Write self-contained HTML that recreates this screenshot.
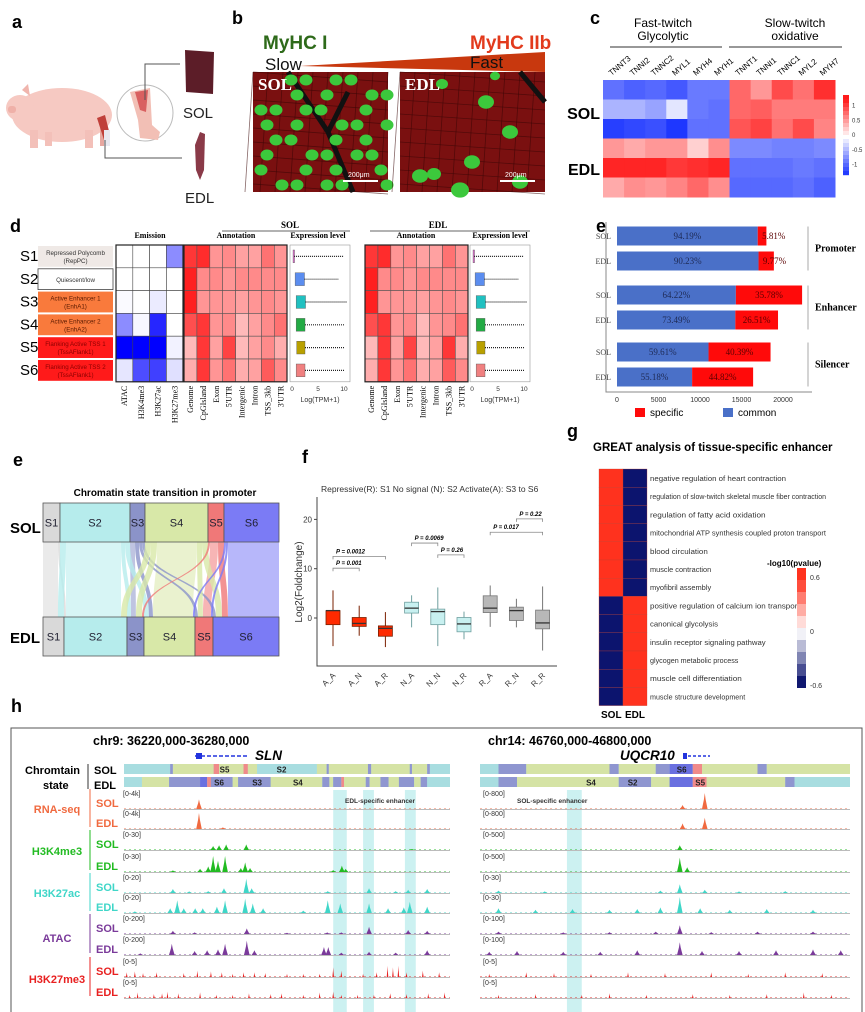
<!DOCTYPE html>
<html><head><meta charset="utf-8">
<style>
html,body{margin:0;padding:0;background:#fff;}
svg{display:block;font-family:"Liberation Sans",Arial,sans-serif;}
.serif{font-family:"Liberation Serif",serif;}
.pl{font-size:18px;font-weight:bold;fill:#000;}
</style></head>
<body>
<svg id="fig" width="865" height="1012" viewBox="0 0 865 1012">
<rect width="865" height="1012" fill="#fff"/>
<!-- ========== panel a ========== -->
<g>
<text class="pl" x="12" y="28">a</text>
<g>
<ellipse cx="62" cy="115" rx="50" ry="27" fill="#f6c9c2"/>
<ellipse cx="20" cy="108" rx="14" ry="13" fill="#f6c9c2"/>
<rect x="8" y="106" width="8" height="7" rx="3" fill="#efb0a8"/>
<polygon points="22,90 28,84 30,96" fill="#f0b5ad"/>
<rect x="30" y="130" width="8" height="18" fill="#f3c0b9"/>
<rect x="45" y="132" width="7" height="14" fill="#f3c0b9"/>
<rect x="85" y="130" width="8" height="18" fill="#f3c0b9"/>
<rect x="100" y="128" width="8" height="18" fill="#e7a7a0"/>
<path d="M97,118 L105,115 L110,135 L104,140 Z" fill="#c0403a"/>
<rect x="104" y="130" width="6" height="16" fill="#e8e8f0"/>
</g>
<circle cx="145" cy="113" r="28" fill="#fff" stroke="#bbb" stroke-width="1"/>
<path d="M130,92 L150,88 L152,125 L160,132 L158,140 L140,138 L138,120 Z" fill="#f2bfb5"/>
<path d="M135,92 L148,90 L146,112 L140,110 Z" fill="#d96060"/>
<polyline points="145,100 145,64 180,64" fill="none" stroke="#555" stroke-width="1"/>
<polyline points="105,140 105,158 182,158" fill="none" stroke="#555" stroke-width="1"/>
<path d="M185,50 L214,52 L213,94 L186,92 Z" fill="#5c1d28"/>
<text x="183" y="118" font-size="15" fill="#222">SOL</text>
<path d="M200,132 L205,134 L204,170 L200,180 L196,170 L195,145 Z" fill="#8a3a48"/>
<text x="185" y="203" font-size="15" fill="#222">EDL</text>
</g>
<!-- ========== panel b ========== -->
<g>
<text class="pl" x="232" y="24">b</text>
<text x="263" y="49" font-size="19" font-weight="bold" fill="#2e6a1a">MyHC I</text>
<text x="470" y="49" font-size="19" font-weight="bold" fill="#e23a1c">MyHC IIb</text>
<text x="265" y="70" font-size="17" fill="#111">Slow</text>
<polygon points="300,66 545,52 545,72" fill="#c8380e"/>
<text x="470" y="68" font-size="17" fill="#111">Fast</text>
<g id="micSOL"></g>
<g id="micEDL"></g>
</g>
<!-- ========== panel c ========== -->
<g id="panelC">
<text class="pl" x="590" y="24">c</text>
<text x="663" y="27" font-size="12" text-anchor="middle">Fast-twitch</text>
<text x="663" y="40" font-size="12" text-anchor="middle">Glycolytic</text>
<text x="795" y="27" font-size="12" text-anchor="middle">Slow-twitch</text>
<text x="795" y="40" font-size="12" text-anchor="middle">oxidative</text>
<line x1="610" y1="47" x2="722" y2="47" stroke="#777" stroke-width="1.5"/>
<line x1="729" y1="47" x2="842" y2="47" stroke="#777" stroke-width="1.5"/>
<text x="600" y="119" font-size="16" font-weight="bold" text-anchor="end">SOL</text>
<text x="600" y="175" font-size="16" font-weight="bold" text-anchor="end">EDL</text>
</g>
<!-- ========== panel d ========== -->
<g id="panelD">
<text class="pl" x="10" y="232">d</text>
<text class="serif" x="150" y="238" font-size="8" font-weight="bold" text-anchor="middle">Emission</text>
<text class="serif" x="236" y="238" font-size="8" font-weight="bold" text-anchor="middle">Annotation</text>
<text class="serif" x="318" y="238" font-size="8" font-weight="bold" text-anchor="middle">Expression level</text>
<text class="serif" x="290" y="228" font-size="9" font-weight="bold" text-anchor="middle">SOL</text>
<line x1="222" y1="231" x2="350" y2="231" stroke="#333" stroke-width="0.8"/>
<text class="serif" x="438" y="228" font-size="9" font-weight="bold" text-anchor="middle">EDL</text>
<line x1="370" y1="231" x2="530" y2="231" stroke="#333" stroke-width="0.8"/>
<text class="serif" x="416" y="238" font-size="8" font-weight="bold" text-anchor="middle">Annotation</text>
<text class="serif" x="500" y="238" font-size="8" font-weight="bold" text-anchor="middle">Expression level</text>
</g>
<!-- ========== panel e (bars) ========== -->
<g id="panelE">
<text class="pl" x="596" y="232">e</text>
</g>
<!-- ========== sankey ========== -->
<g id="panelS">
<text class="pl" x="13" y="466">e</text>
<text x="165" y="496" font-size="10" font-weight="bold" text-anchor="middle">Chromatin state transition in promoter</text>
<text x="10" y="533" font-size="15" font-weight="bold">SOL</text>
<text x="10" y="643" font-size="15" font-weight="bold">EDL</text>
</g>
<!-- ========== panel f ========== -->
<g id="panelF">
<text class="pl" x="302" y="463">f</text>
<text x="321" y="492" font-size="8.5" fill="#333">Repressive(R): S1   No signal (N): S2   Activate(A): S3 to S6</text>
</g>
<!-- ========== panel g ========== -->
<g id="panelG">
<text class="pl" x="567" y="437">g</text>
<text x="593" y="451" font-size="11.5" font-weight="bold">GREAT analysis of tissue-specific enhancer</text>
<text x="767" y="566" font-size="8" font-weight="bold">-log10(pvalue)</text>
<text x="601" y="718" font-size="10" font-weight="bold">SOL</text>
<text x="625" y="718" font-size="10" font-weight="bold">EDL</text>
</g>
<!-- ========== panel h ========== -->
<g id="panelH">
<text class="pl" x="11" y="712">h</text>
<polyline points="11,1012 11,728 862,728 862,1012" fill="none" stroke="#555" stroke-width="1"/>
<text x="93" y="745" font-size="12.5" font-weight="bold">chr9: 36220,000-36280,000</text>
<text x="255" y="760" font-size="13.5" font-weight="bold" font-style="italic">SLN</text>
<text x="488" y="745" font-size="12.5" font-weight="bold">chr14: 46760,000-46800,000</text>
<text x="620" y="760" font-size="13.5" font-weight="bold" font-style="italic">UQCR10</text>
<text x="25" y="774" font-size="11" font-weight="bold">Chromtain</text>
<text x="43" y="789" font-size="11" font-weight="bold">state</text>
<line x1="88" y1="764" x2="88" y2="789" stroke="#333"/>
<text x="94" y="774" font-size="11" font-weight="bold">SOL</text>
<text x="94" y="789" font-size="11" font-weight="bold">EDL</text>
</g>
</svg>
<script>
const NS='http://www.w3.org/2000/svg';
function mk(tag,attrs,parent){const e=document.createElementNS(NS,tag);for(const k in attrs)e.setAttribute(k,attrs[k]);(parent||document.getElementById('fig')).appendChild(e);return e;}
function tx(str,attrs,parent){const e=mk('text',attrs,parent);e.textContent=str;return e;}

/* ---------------- panel b micrographs ---------------- */
function micro(id,x0,y0,w,h,lab,blobs,vess){
  const g=document.getElementById(id);
  let r=mk('rect',{x:x0,y:y0,width:w,height:h,fill:'#7a1010'},g);
  
  
  for(let i=0;i<9;i++){let l=mk('line',{x1:x0,y1:y0+i*14,x2:x0+w,y2:y0+i*14+10,stroke:'#3a0606','stroke-width':0.8,opacity:0.6},g);
    
    }
  for(let i=0;i<10;i++){let l=mk('line',{x1:x0+i*15,y1:y0,x2:x0+i*15-8,y2:y0+h,stroke:'#3a0606','stroke-width':0.8,opacity:0.6},g);
    
    }
  vess.forEach(p=>{let v=mk('path',{d:p,stroke:'#111','stroke-width':5,fill:'none',transform:'translate('+x0+' '+y0+')'},g);
    
    });
  blobs.forEach(b=>{let c=mk('ellipse',{cx:x0+b[0],cy:y0+b[1],rx:b[2],ry:b[2]*0.85,fill:'#3cc83c'},g);
    
    });
  let t=tx(lab,{x:x0+5,y:y0+18,'font-size':17,'font-weight':'bold',fill:'#fff',class:'serif'},g);
  
  
  let sb=mk('rect',{x:x0+w-45,y:y0+h-12,width:35,height:2,fill:'#fff'},g);
  
  
  let st=tx('200μm',{x:x0+w-40,y:y0+h-15,'font-size':7,fill:'#fff'},g);
  
  
}
const solBlobs=[];
for(let r=0;r<8;r++)for(let c=0;c<9;c++){ if((r*3+c*5)%4!==0 && (r+c)%3!==1){solBlobs.push([8+c*15+(r%2)*6,8+r*15,6.5]);}}
micro('micSOL',253,72,135,120,'SOL',solBlobs,['M35,0 L75,60 L100,120','M75,60 L95,20']);
micro('micEDL',400,72,145,120,'EDL',[[42,12,6],[86,30,8],[72,90,8],[20,104,8],[34,102,7],[110,60,8],[120,110,8],[60,118,9],[95,4,5]],['M120,0 L145,30']);

/* ---------------- panel c heatmap ---------------- */
const cGenes=['TNNT3','TNNI2','TNNC2','MYL1','MYH4','MYH1','TNNT1','TNNI1','TNNC1','MYL2','MYH7'];
const cRows=['SOL-1','SOL-2','SOL-3','EDL-1','EDL-2','EDL-3'];
const cVals=[
 [-0.85,-0.95,-0.9,-1.0,-0.8,-0.8,0.8,0.55,0.95,0.75,1.1],
 [-0.45,-0.45,-0.55,-0.15,-0.8,-0.85,0.8,0.85,0.7,0.7,0.7],
 [-1.15,-1.1,-1.05,-1.2,-0.85,-0.85,0.9,1.0,0.75,0.95,0.65],
 [0.55,0.45,0.55,0.55,0.25,0.6,-0.7,-0.7,-0.75,-0.75,-0.7],
 [1.15,1.15,1.15,1.05,1.1,1.15,-0.85,-0.85,-0.85,-0.8,-0.85],
 [0.45,0.6,0.55,0.65,0.8,0.6,-0.9,-0.9,-0.9,-0.85,-0.95]];
const cTicks=[1,0.5,0,-0.5,-1];
function divColor(v,m){let t=Math.max(-1,Math.min(1,v/m));
  if(t>=0){return 'rgb(255,'+Math.round(255-(255-28)*t)+','+Math.round(255-(255-28)*t)+')';}
  t=-t;return 'rgb('+Math.round(255-(255-30)*t)+','+Math.round(255-(255-55)*t)+',255)';}
(function(){
 const g=document.getElementById('panelC');const X0=603,Y0=80,W=232,H=117;
 const cw=W/cGenes.length,ch=H/cRows.length;
 cVals.forEach((row,i)=>row.forEach((v,j)=>{
   let r=mk('rect',{x:X0+j*cw,y:Y0+i*ch,width:cw+0.5,height:ch+0.5,fill:divColor(v,1.2)},g);
   
   }));
 cGenes.forEach((n,j)=>{let t=tx(n,{x:X0+j*cw+cw/2-2,y:76,'font-size':8,transform:'rotate(-40 '+(X0+j*cw+cw/2-2)+' 76)'},g);
   
   });
 for(let k=0;k<20;k++){let v=1.3-k*2.6/20;let r=mk('rect',{x:843,y:95+k*4,width:6,height:4.2,fill:divColor(v,1.2)},g);
   
   }
 cTicks.forEach(v=>{let y=135-v*29.5;let t=tx(String(v),{x:852,y:y+2,'font-size':6,fill:'#333'},g);
   
   });
})();

/* ---------------- panel d ---------------- */
const dStates=['S1','S2','S3','S4','S5','S6'];
const dNames=[['Repressed Polycomb','(RepPC)'],['Quiescent/low',''],['Active Enhancer 1','(EnhA1)'],['Active Enhancer 2','(EnhA2)'],['Flanking Active TSS 1','(TssAFlank1)'],['Flanking Active TSS 2','(TssAFlank1)']];
const dEmisMarks=['ATAC','H3K4me3','H3K27ac','H3K27me3'];
const dEmis=[[0,0,0,0.45],[0,0,0,0],[0.02,0,0.08,0],[0.45,0.03,0.85,0],[1,1,1,0.05],[0.1,0.7,0.75,0.12]];
const dAnnoCats=['Genome','CpGIsland','Exon',"5'UTR",'Intergenic','Intron','TSS_3kb',"3'UTR"];
const dAnnoSOL=[[0.85,0.9,0.45,0.5,0.4,0.4,0.6,0.45],[0.95,0.5,0.5,0.45,0.5,0.5,0.5,0.5],[0.95,0.45,0.45,0.45,0.4,0.45,0.5,0.45],[0.75,0.85,0.45,0.5,0.3,0.4,0.5,0.6],[0.3,0.85,0.4,0.8,0.3,0.4,0.5,0.35],[0.35,0.85,0.45,0.6,0.35,0.4,0.7,0.5]];
const dAnnoEDL=[[0.85,0.9,0.45,0.5,0.4,0.4,0.6,0.45],[0.95,0.5,0.5,0.45,0.5,0.5,0.5,0.5],[0.95,0.45,0.45,0.45,0.4,0.45,0.5,0.45],[0.75,0.85,0.45,0.5,0.3,0.45,0.5,0.6],[0.3,0.85,0.4,0.8,0.3,0.4,0.85,0.35],[0.35,0.85,0.45,0.6,0.35,0.4,0.7,0.5]];
const dExprMed=[0.3,1.5,1.7,1.6,1.6,1.6];
const dExprQ=[[0.2,0.4],[0.6,2.4],[0.8,2.6],[0.8,2.5],[0.9,2.5],[0.8,2.5]];
const dExprMax=[10,9,10.5,10,10,10];
(function(){
 const g=document.getElementById('panelD');const Y0=245,RH=22.8;
 const boxFill=['#efe9e6','#ffffff','#f97a3c','#f97a3c','#ff1a1a','#ff1a1a'];
 const boxText=['#333','#333','#5a1a00','#5a1a00','#8a0000','#8a0000'];
 const exprCol=['#e070d0','#5b8def','#20c0c0','#22aa44','#b8a000','#f08080'];
 dStates.forEach((s,i)=>{const y=Y0+i*RH;
  let t=tx(s,{x:20,y:y+16,'font-size':15},g);
  
  
  let b=mk('rect',{x:38,y:y+1,width:75,height:RH-2,fill:boxFill[i],stroke:i==1?'#444':'none','stroke-width':0.8},g);
  
  
  let n1=tx(dNames[i][0],{x:75.5,y:dNames[i][1]?y+10:y+14,'font-size':6.2,'text-anchor':'middle',fill:boxText[i]},g);
  
  
  if(dNames[i][1]){let n2=tx(dNames[i][1],{x:75.5,y:y+18,'font-size':6.2,'text-anchor':'middle',fill:boxText[i]},g);
   
   }
  dEmis[i].forEach((v,j)=>{let c=mk('rect',{x:116+j*16.8,y:y,width:16.8,height:RH,fill:'rgb('+Math.round(255-255*v)+','+Math.round(255-255*v)+',255)',stroke:'#444','stroke-width':0.6},g);
   
   });
  [[184,dAnnoSOL],[365,dAnnoEDL]].forEach(([x0,arr])=>arr[i].forEach((v,j)=>{
   const gg=Math.round(255-(255-20)*v);
   let c=mk('rect',{x:x0+j*12.9,y:y,width:12.9,height:RH,fill:'rgb(255,'+gg+','+gg+')',stroke:'#555','stroke-width':0.6},g);
   
   }));
  [290,470].forEach(x0=>{const sx=v=>x0+2+v*5.2;
   let bx=mk('rect',{x:sx(dExprQ[i][0]),y:y+5,width:Math.max(1.5,sx(dExprQ[i][1])-sx(dExprQ[i][0])),height:RH-10,fill:exprCol[i],stroke:'#555','stroke-width':0.4},g);
   
   
   let ln=mk('line',{x1:sx(dExprQ[i][1]),y1:y+RH/2,x2:sx(dExprMax[i]),y2:y+RH/2,stroke:'#222','stroke-width':1.2,'stroke-dasharray':'1 1'},g);
   
   });
 });
 [[116,183],[184,287],[365,468]].forEach(([a,b])=>{let r=mk('rect',{x:a,y:Y0,width:b-a,height:RH*6,fill:'none',stroke:'#222','stroke-width':1.2},g);
  
  });
 [290,470].forEach(x0=>{let r=mk('rect',{x:x0,y:Y0,width:60,height:RH*6,fill:'none',stroke:'#999','stroke-width':0.6},g);
  
  
  [0,5,10].forEach(v=>{let t=tx(String(v),{x:x0+2+v*5.2,y:Y0+RH*6+9,'font-size':6.5,'text-anchor':'middle',fill:'#333'},g);
   
   });
  let t=tx('Log(TPM+1)',{x:x0+30,y:Y0+RH*6+20,'font-size':7,'text-anchor':'middle',fill:'#333'},g);
  
  });
 const yb=Y0+RH*6+4;
 dEmisMarks.forEach((m,j)=>{const x=116+j*16.8+11;let t=tx(m,{x:x,y:yb,'font-size':8,'text-anchor':'end',class:'serif',transform:'rotate(-90 '+x+' '+yb+')'},g);
  
  });
 [184,365].forEach(x0=>dAnnoCats.forEach((m,j)=>{const x=x0+j*12.9+9;let t=tx(m,{x:x,y:yb,'font-size':8,'text-anchor':'end',class:'serif',transform:'rotate(-90 '+x+' '+yb+')'},g);
  
  }));
})();

/* ---------------- panel e bar chart ---------------- */
const eRegions=['Promoter','Enhancer','Silencer'];
const eTissues=['SOL','EDL','SOL','EDL','SOL','EDL'];
const eTotals=[18000,18900,22300,19400,18500,16400];
const eCommonPct=[94.19,90.23,64.22,73.49,59.61,55.18];
const eSpecificPct=[5.81,9.77,35.78,26.51,40.39,44.82];
const eTicks=[0,5000,10000,15000,20000];
(function(){
 const g=document.getElementById('panelE');
 const xS=v=>617+v*166/20000;
 const yC=[236,261,295,320,352,377];
 eTotals.forEach((tot,i)=>{const cw=tot*eCommonPct[i]/100;const sw=tot*eSpecificPct[i]/100;
  let b1=mk('rect',{x:xS(0),y:yC[i]-9.5,width:xS(cw)-xS(0),height:19,fill:'#4a70c8'},g);
  
  
  let b2=mk('rect',{x:xS(cw),y:yC[i]-9.5,width:xS(cw+sw)-xS(cw),height:19,fill:'#ff0a0a'},g);
  
  
  let t1=tx(eCommonPct[i].toFixed(2)+'%',{x:(xS(0)+xS(cw))/2,y:yC[i]+3,'font-size':9,'text-anchor':'middle',fill:'#1e2a55',class:'serif'},g);
  
  
  let t2=tx(eSpecificPct[i].toFixed(2)+'%',{x:Math.max(xS(cw)+16,(xS(cw)+xS(cw+sw))/2),y:yC[i]+3,'font-size':9,'text-anchor':'middle',fill:'#5a0000',class:'serif'},g);
  
  
  let tl=tx(eTissues[i],{x:611,y:yC[i]+3,'font-size':8,'text-anchor':'end',fill:'#444',class:'serif'},g);
  
  });
 eRegions.forEach((r,k)=>{const ym=(yC[2*k]+yC[2*k+1])/2;
  let l=mk('line',{x1:808,y1:ym-22,x2:808,y2:ym+22,stroke:'#aaa','stroke-width':1},g);
  
  
  let t=tx(r,{x:815,y:ym+3,'font-size':10,'font-weight':'bold',class:'serif'},g);
  
  });
 let ax=mk('polyline',{points:'606,222 606,392 812,392',fill:'none',stroke:'#888','stroke-width':1},g);
 
 
 eTicks.forEach(v=>{let t=tx(String(v),{x:xS(v),y:402,'font-size':7,'text-anchor':'middle',fill:'#333'},g);
  
  });
 let l1=mk('rect',{x:635,y:408,width:10,height:9,fill:'#ff0a0a'},g);
 
 
 let l1t=tx('specific',{x:650,y:416,'font-size':10},g);
 
 
 let l2=mk('rect',{x:723,y:408,width:10,height:9,fill:'#4a70c8'},g);
 
 
 let l2t=tx('common',{x:738,y:416,'font-size':10},g);
 
 
})();

/* ---------------- sankey ---------------- */
const sStates=['S1','S2','S3','S4','S5','S6'];
const sFrom=[0,0,1,1,1,1,2,2,2,2,3,3,3,3,3,4,4,4,5,5,5];
const sTo  =[0,1,0,1,2,3,2,3,4,5,1,2,3,4,5,2,4,5,3,4,5];
const sVal =[15,2,6,55,4,5,5,4,3,3,6,6,40,5,6,2,8,6,2,2,51];
(function(){
 const g=document.getElementById('panelS');
 const col=['#d9d9d9','#b6ecec','#8b93c9','#d8e8a8','#f07878','#7b7bf5'];
 const X0=43,W=236,yT=503,yB=617,bh=39;
 const tot=sVal.reduce((a,b)=>a+b,0);const k=W/tot;
 const outT=[0,0,0,0,0,0],inT=[0,0,0,0,0,0];
 sVal.forEach((v,i)=>{outT[sFrom[i]]+=v;inT[sTo[i]]+=v;});
 const sx=[],ex=[];let a=X0,b=X0;
 for(let s=0;s<6;s++){sx.push(a);a+=outT[s]*k;ex.push(b);b+=inT[s]*k;}
 const so=sx.slice(),eo=ex.slice();
 const order=sVal.map((v,i)=>i).sort((i,j)=>(sFrom[i]===sTo[i]?0:1)-(sFrom[j]===sTo[j]?0:1));
 const pos={};
 sVal.forEach((v,i)=>{pos[i]={x1:so[sFrom[i]],x2:eo[sTo[i]]};so[sFrom[i]]+=v*k;eo[sTo[i]]+=v*k;});
 order.forEach(i=>{const w=sVal[i]*k,p=pos[i],y1=yT+bh,y2=yB,my=(y1+y2)/2;
  const d='M'+p.x1+','+y1+' C'+p.x1+','+my+' '+p.x2+','+my+' '+p.x2+','+y2+' L'+(p.x2+w)+','+y2+' C'+(p.x2+w)+','+my+' '+(p.x1+w)+','+my+' '+(p.x1+w)+','+y1+' Z';
  const self=sFrom[i]===sTo[i];
  let r=mk('path',{d:d,fill:col[sFrom[i]],opacity:self?0.55:0.8},g);
  
  });
 [[yT,sx,outT],[yB,ex,inT]].forEach(([y,xs,ts])=>{for(let s=0;s<6;s++){
  let r=mk('rect',{x:xs[s],y:y,width:ts[s]*k,height:bh,fill:col[s],stroke:'#555','stroke-width':0.8},g);
  
  
  let t=tx(sStates[s],{x:xs[s]+ts[s]*k/2,y:y+bh/2+4,'font-size':11,'text-anchor':'middle',fill:'#223'},g);
  
  }});
})();

/* ---------------- panel f boxplots ---------------- */
const fGroups=['A_A','A_N','A_R','N_A','N_N','N_R','R_A','R_N','R_R'];
const fQ1=[-1.35,-1.7,-3.7,1.0,-1.35,-2.8,1.1,-0.5,-2.2];
const fMed=[1.5,-1.1,-2.1,2.0,1.3,-1.2,2.0,1.5,-1.0];
const fQ3=[1.5,0.1,-1.6,3.2,1.8,0.1,4.5,2.2,1.6];
const fWLo=[-5.7,-3.6,-5.9,-1.9,-5.7,-4.3,-1.8,-1.9,-6.6];
const fWHi=[5.6,2.5,1.2,4.6,6.2,1.3,6.6,3.9,6.4];
const fTicks=[0,10,20];
const fPairs=[[0,1],[0,2],[3,4],[4,5],[6,8],[7,8]];
const fPLevels=[10.1,12.5,15.2,12.8,17.4,20.1];
const fPText=['P = 0.001','P = 0.0012','P = 0.0069','P = 0.26','P = 0.017','P = 0.22'];
(function(){
 const g=document.getElementById('panelF');
 const yS=v=>618-v*4.93;const xS=i=>333+i*26.2;
 const fill=['#ff2a00','#ff2a00','#ff2a00','#c8f0f0','#c8f0f0','#c8f0f0','#b8b8b8','#b8b8b8','#b8b8b8'];
 const stroke=['#7a2000','#7a2000','#7a2000','#70a0a0','#70a0a0','#70a0a0','#777','#777','#777'];
 let ax=mk('polyline',{points:'317,497 317,666 557,666',fill:'none',stroke:'#444','stroke-width':1},g);
 
 
 fTicks.forEach(v=>{let l=mk('line',{x1:314,y1:yS(v),x2:317,y2:yS(v),stroke:'#444'},g);
  
  
  let t=tx(String(v),{x:312,y:yS(v)+3,'font-size':8,'text-anchor':'end',fill:'#333'},g);
  
  });
 let yt=tx('Log2(Foldchange)',{x:302,y:582,'font-size':10,'text-anchor':'middle',fill:'#333',transform:'rotate(-90 302 582)'},g);
 
 
 fGroups.forEach((n,i)=>{const x=xS(i);
  let w=mk('line',{x1:x,y1:yS(fWLo[i]),x2:x,y2:yS(fWHi[i]),stroke:stroke[i],'stroke-width':1},g);
  
  
  let b=mk('rect',{x:x-7,y:yS(fQ3[i]),width:14,height:yS(fQ1[i])-yS(fQ3[i]),fill:fill[i],stroke:stroke[i],'stroke-width':0.8},g);
  
  
  let m=mk('line',{x1:x-7,y1:yS(fMed[i]),x2:x+7,y2:yS(fMed[i]),stroke:'#333','stroke-width':1.3},g);
  
  
  let t=tx(n,{x:x+3,y:676,'font-size':8,'text-anchor':'end',fill:'#333',transform:'rotate(-45 '+(x+3)+' 676)'},g);
  
  });
 fPairs.forEach((p,k)=>{const y=yS(fPLevels[k]),a=xS(p[0]),b=xS(p[1]);
  let l=mk('polyline',{points:a+','+(y+3)+' '+a+','+y+' '+b+','+y+' '+b+','+(y+3),fill:'none',stroke:'#888','stroke-width':0.8},g);
  
  
  let t=tx(fPText[k],{x:a+3,y:y-3,'font-size':6,'font-weight':'bold','font-style':'italic'},g);
  
  });
})();

/* ---------------- panel g heatmap ---------------- */
const gTerms=['negative regulation of heart contraction','regulation of slow-twitch skeletal muscle fiber contraction','regulation of fatty acid oxidation','mitochondrial ATP synthesis coupled proton transport','blood circulation','muscle contraction','myofibril assembly','positive regulation of calcium ion transport','canonical glycolysis','insulin receptor signaling pathway','glycogen metabolic process','muscle cell differentiation','muscle structure development'];
const gSOL=[0.6,0.6,0.6,0.6,0.6,0.6,0.6,-0.6,-0.6,-0.6,-0.6,-0.6,-0.6];
const gEDL=[-0.6,-0.6,-0.6,-0.6,-0.6,-0.6,-0.6,0.6,0.6,0.6,0.6,0.6,0.6];
const gTicks=[0.6,0,-0.6];
function gColor(v){const t=Math.max(-1,Math.min(1,v/0.6));
 if(t>=0){return 'rgb(255,'+Math.round(255-(255-50)*t)+','+Math.round(255-(255-30)*t)+')';}
 const u=-t;return 'rgb('+Math.round(255-(255-12)*u)+','+Math.round(255-(255-20)*u)+','+Math.round(255-(255-110)*u)+')';}
(function(){
 const g=document.getElementById('panelG');const Y0=469,RH=18.2;
 gTerms.forEach((term,i)=>{
  [[599,gSOL],[623,gEDL]].forEach(([x,arr])=>{let r=mk('rect',{x:x,y:Y0+i*RH,width:24,height:RH,fill:gColor(arr[i]),stroke:'#c04030','stroke-width':0.3},g);
   
   });
  let t=tx(term,{x:650,y:Y0+i*RH+12,'font-size':7.6,fill:'#333',textLength:Math.min(176,term.length*3.4),lengthAdjust:'spacingAndGlyphs'},g);
  
  });
 for(let k=0;k<10;k++){const v=0.66-k*1.32/9.5;let r=mk('rect',{x:797,y:568+k*12,width:9,height:12,fill:gColor(v)},g);
  
  }
 gTicks.forEach(v=>{let t=tx(String(v),{x:810,y:631-v*90+3,'font-size':7,fill:'#333'},g);
  
  });
})();

/* ---------------- panel h genome tracks ---------------- */
const hStateCol={S2:'#a8dde0',S3:'#8f96d0',S4:'#d5e3a5',S5:'#f08a8a',S6:'#6a70e0'};
const hLeftSOL=[[0,8.5,'S2'],[8.5,9,'S3'],[9,16.5,'S4'],[16.5,17.5,'S5'],[17.5,22,'S4'],[22,22.8,'S5'],[22.8,24.5,'S4'],[24.5,35.5,'S2'],[35.5,37.3,'S4'],[37.3,37.7,'S3'],[37.7,44.9,'S4'],[44.9,45.5,'S3'],[45.5,52.6,'S4'],[52.6,53,'S3'],[53,55.8,'S4'],[55.8,56.3,'S3'],[56.3,60,'S2']];
const hLeftEDL=[[0,3.3,'S2'],[3.3,8.3,'S4'],[8.3,14,'S3'],[14,15.3,'S6'],[15.3,16,'S5'],[16,20,'S3'],[20,21,'S4'],[21,27,'S3'],[27,36.5,'S4'],[36.5,37.8,'S3'],[37.8,38.5,'S4'],[38.5,40,'S3'],[40,40.5,'S5'],[40.5,44.5,'S4'],[44.5,45.2,'S3'],[45.2,47.2,'S4'],[47.2,48.7,'S3'],[48.7,50.6,'S4'],[50.6,53.4,'S3'],[53.4,54.6,'S4'],[54.6,55.8,'S3'],[55.8,60,'S2']];
const hRightSOL=[[0,2,'S2'],[2,5,'S3'],[5,14,'S4'],[14,15,'S3'],[15,19,'S4'],[19,20.5,'S3'],[20.5,23,'S6'],[23,24,'S5'],[24,30,'S4'],[30,31,'S3'],[31,40,'S4']];
const hRightEDL=[[0,2,'S2'],[2,4,'S3'],[4,15,'S4'],[15,18.5,'S3'],[18.5,20.5,'S4'],[20.5,23,'S6'],[23,24.5,'S5'],[24.5,33,'S4'],[33,34,'S3'],[34,40,'S2']];
const hLeftStateLabels=[['S5',18.5,0],['S2',29,0],['S6',17.5,1],['S3',24.5,1],['S4',32,1]];
const hRightStateLabels=[['S6',21.8,0],['S4',12,1],['S2',16.5,1],['S5',23.8,1]];
const hTrackNames=['RNA-seq','RNA-seq','H3K4me3','H3K4me3','H3K27ac','H3K27ac','ATAC','ATAC','H3K27me3','H3K27me3'];
const hTrackTissue=['SOL','EDL','SOL','EDL','SOL','EDL','SOL','EDL','SOL','EDL'];
const hLeftRanges=['[0-4k]','[0-4k]','[0-30]','[0-30]','[0-20]','[0-20]','[0-200]','[0-200]','[0-5]','[0-5]'];
const hRightRanges=['[0-800]','[0-800]','[0-500]','[0-500]','[0-30]','[0-30]','[0-100]','[0-100]','[0-5]','[0-5]'];
const hLeftPeaks=[
 [[13.8,0.6]],
 [[13.8,1.0],[18.2,0.1]],
 [[16.4,0.25],[17.5,0.3],[18.8,0.35],[22.5,0.35],[53,0.06]],
 [[9.0,0.1],[14.0,0.2],[15.5,0.35],[16.4,1.0],[17.3,0.7],[18.6,1.0],[21.5,0.25],[22.3,0.6],[23.2,0.25],[38.5,0.12],[40.1,0.4],[40.8,0.2]],
 [[9.0,0.25],[12,0.1],[15.5,0.12],[18.4,0.3],[22.5,0.9],[23.5,0.3],[37.5,0.12],[45.1,0.3],[50,0.12],[52.3,0.2],[55.8,0.25]],
 [[2,0.1],[8.5,0.3],[9.8,0.8],[11,0.3],[13.1,0.3],[14.5,0.3],[17.1,0.4],[18.6,0.8],[22.3,0.9],[23.7,0.6],[25.6,0.3],[33,0.15],[37.5,0.8],[39.8,0.6],[45.1,0.6],[48.6,0.3],[51.5,0.35],[52.6,0.7],[55.8,0.4]],
 [[9.0,0.2],[13,0.1],[22.6,0.35],[30,0.08],[37.4,0.1],[40,0.1],[45.1,0.45],[52.3,0.25],[55.8,0.2]],
 [[3,0.1],[8.8,0.7],[13,0.25],[15.3,0.3],[17.3,0.35],[18.6,0.7],[22.6,0.9],[24,0.3],[36.8,0.5],[37.6,0.5],[40,0.15],[45.1,0.2],[50,0.15],[55.8,0.3]],
 [[0.5,0.3],[2,0.35],[3.5,0.25],[6,0.3],[11,0.25],[13.5,0.4],[16,0.35],[18,0.3],[20,0.2],[22,0.3],[24,0.3],[26,0.25],[30,0.2],[33,0.2],[36,0.2],[38.5,0.6],[40,0.4],[44,0.2],[46.5,0.3],[48.5,0.7],[49.5,0.6],[50.5,0.7],[52,0.3],[55,0.4],[58,0.3]],
 [[1,0.2],[2.5,0.35],[5.5,0.25],[7,0.3],[8,0.4],[10,0.3],[14,0.35],[17,0.2],[20,0.2],[23,0.3],[27,0.25],[29,0.3],[33,0.2],[36,0.35],[38.5,0.4],[40,0.2],[43,0.2],[46,0.2],[49,0.3],[52,0.25],[56,0.3],[59,0.35]]];
const hRightPeaks=[
 [[21.9,0.25],[24.3,1.0]],
 [[21.9,0.35],[24.3,0.7]],
 [[21.6,0.3],[25,0.05]],
 [[21.6,0.9],[22.4,0.3]],
 [[2,0.15],[7,0.1],[19.5,0.15],[21.6,0.55],[24.3,0.2],[28,0.1],[33,0.12]],
 [[2,0.3],[6,0.2],[10,0.25],[14,0.2],[17,0.25],[19.5,0.35],[21.6,1.0],[23.8,0.3],[27,0.2],[31,0.25],[36,0.2]],
 [[2,0.15],[9,0.1],[14,0.12],[19,0.15],[21.6,0.55],[25,0.12],[30,0.15],[36,0.15]],
 [[1,0.2],[4,0.25],[9,0.2],[13,0.2],[17,0.3],[21.6,0.8],[24,0.25],[28,0.25],[32,0.3],[36,0.35],[39,0.3]],
 [[1,0.2],[5,0.3],[8,0.25],[12,0.2],[16,0.3],[20,0.25],[25,0.3],[29,0.2],[33,0.3],[37,0.25]],
 [[2,0.2],[6,0.25],[11,0.2],[14,0.3],[18,0.2],[23,0.25],[27,0.2],[31,0.25],[35,0.35],[38,0.2]]];
const hLeftBands=[[38.5,41.0],[44.0,46.0],[51.7,53.7]];
const hRightBands=[[9.4,11.0]];
(function(){
 const g=document.getElementById('panelH');
 const trackCol=['#f06a40','#f06a40','#22bb22','#22bb22','#3fd6c8','#3fd6c8','#7a3a9a','#7a3a9a','#e82020','#e82020'];
 const groupY=[813,855,897,942,983];
 const groupNames=['RNA-seq','H3K4me3','H3K27ac','ATAC','H3K27me3'];
 const base=[809,829,850,872,893,913,934,955,977,998];
 const regions=[
  {x0:124,x1:450,len:60,states:[hLeftSOL,hLeftEDL],labels:hLeftStateLabels,peaks:hLeftPeaks,bands:hLeftBands,ranges:hLeftRanges},
  {x0:480,x1:850,len:40,states:[hRightSOL,hRightEDL],labels:hRightStateLabels,peaks:hRightPeaks,bands:hRightBands,ranges:hRightRanges}];
 regions.forEach((R,ri)=>{
  const xS=kb=>R.x0+kb/R.len*(R.x1-R.x0);
  R.bands.forEach(b=>{let r=mk('rect',{x:xS(b[0]),y:790,width:xS(b[1])-xS(b[0]),height:222,fill:'#bfeeee',opacity:0.8},g);
   
   });
  R.states.forEach((row,k)=>{const y=k?777:764;
   let bg=mk('rect',{x:R.x0,y:y,width:R.x1-R.x0,height:10,fill:'#a8dde0'},g);
   
   
   row.forEach(s=>{let r=mk('rect',{x:xS(s[0]),y:y,width:xS(s[1])-xS(s[0]),height:10,fill:hStateCol[s[2]]},g);
    
    });});
  R.labels.forEach(l=>{let t=tx(l[0],{x:xS(l[1]),y:(l[2]?777:764)+8.5,'font-size':8,'font-weight':'bold','text-anchor':'middle',fill:'#222'},g);
   
   });
  R.peaks.forEach((pk,t)=>{const b=base[t];
   let ln=mk('line',{x1:R.x0,y1:b+0.5,x2:R.x1,y2:b+0.5,stroke:'#bbb','stroke-width':1},g);
   
   
   let bl=mk('line',{x1:R.x0,y1:b-0.5,x2:R.x1,y2:b-0.5,stroke:trackCol[t],'stroke-width':0.8,'stroke-dasharray':'2 3',opacity:0.6},g);
   
   
   const hw=t>=8?0.8:2.8;
   pk.forEach(p=>{const x=xS(p[0]),h=p[1]*16;
    let pa=mk('path',{d:'M'+(x-hw)+','+b+' L'+(x-hw*0.3)+','+(b-h*0.6)+' L'+x+','+(b-h)+' L'+(x+hw*0.3)+','+(b-h*0.6)+' L'+(x+hw)+','+b+' Z',fill:trackCol[t]},g);
    
    });
   let rt=tx(R.ranges[t],{x:R.x0-1+(ri?4:0),y:b-13,'font-size':7,fill:'#333'},g);
   
   });
 });
 base.forEach((b,t)=>{let s=tx(hTrackTissue[t],{x:96,y:b-2,'font-size':11,'font-weight':'bold',fill:trackCol[t]},g);
  
  });
 groupNames.forEach((n,k)=>{let t=tx(n,{x:57,y:groupY[k],'font-size':11,'font-weight':'bold','text-anchor':'middle',fill:trackCol[k*2]},g);
  
  
  let l=mk('line',{x1:90,y1:base[k*2]-20,x2:90,y2:base[k*2+1]-2,stroke:trackCol[k*2],'stroke-width':1},g);
  
  });
 let e1=tx('EDL-specific enhancer',{x:345,y:803,'font-size':6.5,'font-weight':'bold',fill:'#333'},g);
 
 
 let e2=tx('SOL-specific enhancer',{x:517,y:803,'font-size':6.5,'font-weight':'bold',fill:'#333'},g);
 
 
 let g1=mk('line',{x1:195,y1:756,x2:247,y2:756,stroke:'#2233dd','stroke-width':1.5,'stroke-dasharray':'4 2'},g);
 
 
 let g1b=mk('rect',{x:196,y:753,width:6,height:6,fill:'#2233dd'},g);
 
 
 let g2=mk('line',{x1:683,y1:756,x2:710,y2:756,stroke:'#2233dd','stroke-width':1.5,'stroke-dasharray':'3 2'},g);
 
 
 let g2b=mk('rect',{x:683,y:753,width:4,height:6,fill:'#2233dd'},g);
 
 
})();
</script>
</body></html>
